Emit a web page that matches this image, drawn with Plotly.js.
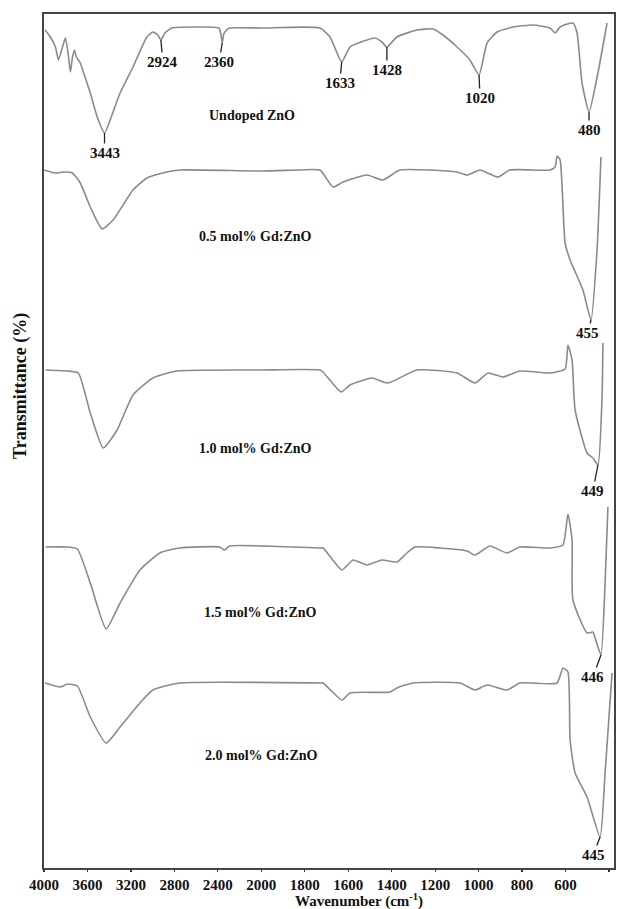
<!DOCTYPE html>
<html><head><meta charset="utf-8">
<script src="https://cdn.plot.ly/plotly-3.0.1.min.js"></script>
<style>html,body{margin:0;padding:0;background:#fff}#chart{width:618px;height:909px}</style>
</head><body><div id="chart"></div>
<script>
// ---- data (wavenumber in cm^-1, transmittance in arbitrary stacked units) ----
const seriesNames = ['Undoped ZnO', '0.5 mol% Gd:ZnO', '1.0 mol% Gd:ZnO', '1.5 mol% Gd:ZnO', '2.0 mol% Gd:ZnO'];

const wnUndoped = [3990,3941,3895,3867,3830,3803,3776,3757,3739,3721,3702,3666,3638,3574,3510,3443,3391,3300,3181,3053,2998,2952,2924,2888,2824,2600,2390,2372,2360,2345,2320,2293,2000,1730,1684,1630,1592,1514,1477,1445,1422,1376,1284,1210,1164,1099,1040,998,961,915,842,750,671,648,625,566,547,524,492,451,409];
const tUndoped  = [838,831,821,808,821,830,813,796,810,818,811,805,796,775,751,735,748,775,801,831,836,833,828,835,840,841,840,834,825,834,838,840,840,840,831,806,821,828,830,826,821,831,838,839,833,821,808,793,825,836,841,843,840,835,841,845,835,785,756,795,845];

const wn05 = [4000,3895,3821,3739,3666,3574,3465,3364,3181,3053,2870,2751,2000,1822,1730,1670,1624,1514,1440,1362,1099,1053,994,911,856,671,648,639,625,602,579,520,483,455,437];
const t05  = [698,695,696,695,685,661,639,648,678,690,696,698,697,698,698,681,686,693,688,698,696,693,698,691,698,698,701,712,708,625,608,578,548,618,711];

const wn10 = [3986,3785,3684,3574,3455,3327,3181,2998,2778,2012,1730,1716,1633,1592,1491,1417,1284,1099,1017,957,888,810,671,602,589,570,556,501,474,451,432,428];
const t10  = [498,497,495,455,420,438,473,490,497,498,498,496,476,483,490,485,498,495,485,495,491,497,495,499,523,508,458,415,410,403,471,525];

const wn15 = [3986,3785,3693,3574,3428,3300,3117,2934,2751,2384,2339,2293,1730,1716,1629,1578,1514,1445,1376,1330,1293,1178,1053,1017,948,869,810,671,612,589,570,566,501,474,464,437,418,405];
const t15  = [321,321,319,285,239,265,298,315,320,321,318,322,320,320,298,308,303,308,306,315,321,320,317,313,322,315,321,320,323,354,328,268,235,236,230,213,285,361];

const wn20 = [3990,3849,3785,3693,3574,3428,3300,3117,2998,2751,1730,1716,1629,1592,1408,1376,1302,1086,1017,961,869,810,639,612,589,579,556,501,441,418,386];
const t20  = [185,181,184,182,151,125,141,165,178,185,185,185,168,175,176,180,185,185,178,183,178,185,185,200,196,128,95,71,31,95,195];

const tickWavenumbers = [4000,3600,3200,2800,2400,2000,1800,1600,1400,1200,1000,800,600,400];

// peak labels: which series, where the band sits, and printed label
const peakSeries = [0,0,0,0,0,0,0,1,2,3,4];
const peakWn     = [3443,2924,2360,1630,1422,998,492,483,451,437,441];
const peakText   = ['3443','2924','2360','1633','1428','1020','480','455','449','446','445'];

// ---- styling / placement (not data) ----
const seriesLabelPos = {wn:[2086,2058,2049,2012,1997], t:[753,632,420,256,113]};
const peakAx = [0,2,-3,-2,0,1,0,-3,-5,-8,-7];
const peakAy = [20,22,19,21,23,23,18,13,26,22,18];

// FTIR axis: 400 cm^-1 per division above 2000, 200 cm^-1 per division below
function toU(w){ return w >= 2000 ? (4000 - w) / 400 : 5 + (2000 - w) / 200; }

const wnList = [wnUndoped, wn05, wn10, wn15, wn20];
const tList  = [tUndoped, t05, t10, t15, t20];

const FONT = 'Liberation Serif, Times New Roman, serif';
const traces = wnList.map((w, i) => ({
  type: 'scatter', mode: 'lines', name: seriesNames[i],
  x: w.map(toU), y: tList[i],
  line: {color: '#8a8a8a', width: 1.6, shape: 'spline', smoothing: 0.5},
  hoverinfo: 'skip', showlegend: false
}));

const annotations = [];
seriesNames.forEach((n, i) => {
  annotations.push({x: toU(seriesLabelPos.wn[i]), y: seriesLabelPos.t[i], xref:'x', yref:'y',
    text: n, showarrow: false, font: {family: FONT, size: 14, color: '#111', weight: 'bold'}});
});
peakText.forEach((txt, k) => {
  const s = peakSeries[k];
  const idx = wnList[s].indexOf(peakWn[k]);
  annotations.push({x: toU(peakWn[k]), y: tList[s][idx], xref:'x', yref:'y',
    text: txt, showarrow: true, arrowhead: 0, arrowwidth: 1.3, arrowcolor: '#222', standoff: 0,
    axref: 'pixel', ayref: 'pixel', ax: peakAx[k], ay: peakAy[k],
    font: {family: FONT, size: 15, color: '#111', weight: 'bold'}});
});
// axis titles
annotations.push({xref:'paper', yref:'paper', x: 0.553, y: -0.0375, yanchor:'middle', xanchor:'center',
  text: 'Wavenumber (cm<sup>-1</sup>)', showarrow: false, font: {family: FONT, size: 15, color:'#111', weight:'bold'}});
annotations.push({xref:'paper', yref:'paper', x: -0.0421, y: 0.5644, xanchor:'center', yanchor:'middle', textangle: -90,
  text: 'Transmittance (%)', showarrow: false, font: {family: FONT, size: 18, color:'#111', weight:'bold'}});

const layout = {
  width: 618, height: 909,
  margin: {l: 44, r: 4, t: 14, b: 41, pad: 0},
  paper_bgcolor: '#fff', plot_bgcolor: '#fff',
  showlegend: false,
  xaxis: {
    range: [0, 13.115], tickmode: 'array',
    tickvals: tickWavenumbers.map(toU), ticktext: tickWavenumbers.map(String),
    ticks: 'outside', ticklen: 2, tickwidth: 1.2, tickcolor: '#333',
    tickfont: {family: FONT, size: 15, color: '#111', weight: 'bold'},
    showline: true, linecolor: '#444', linewidth: 1.6, mirror: true,
    showgrid: false, zeroline: false
  },
  yaxis: {
    range: [0, 854], showticklabels: false, ticks: '',
    showline: true, linecolor: '#444', linewidth: 1.6, mirror: true,
    showgrid: false, zeroline: false
  },
  annotations: annotations
};

Plotly.newPlot('chart', traces, layout, {displayModeBar: false, staticPlot: true});
</script>
</body></html>
